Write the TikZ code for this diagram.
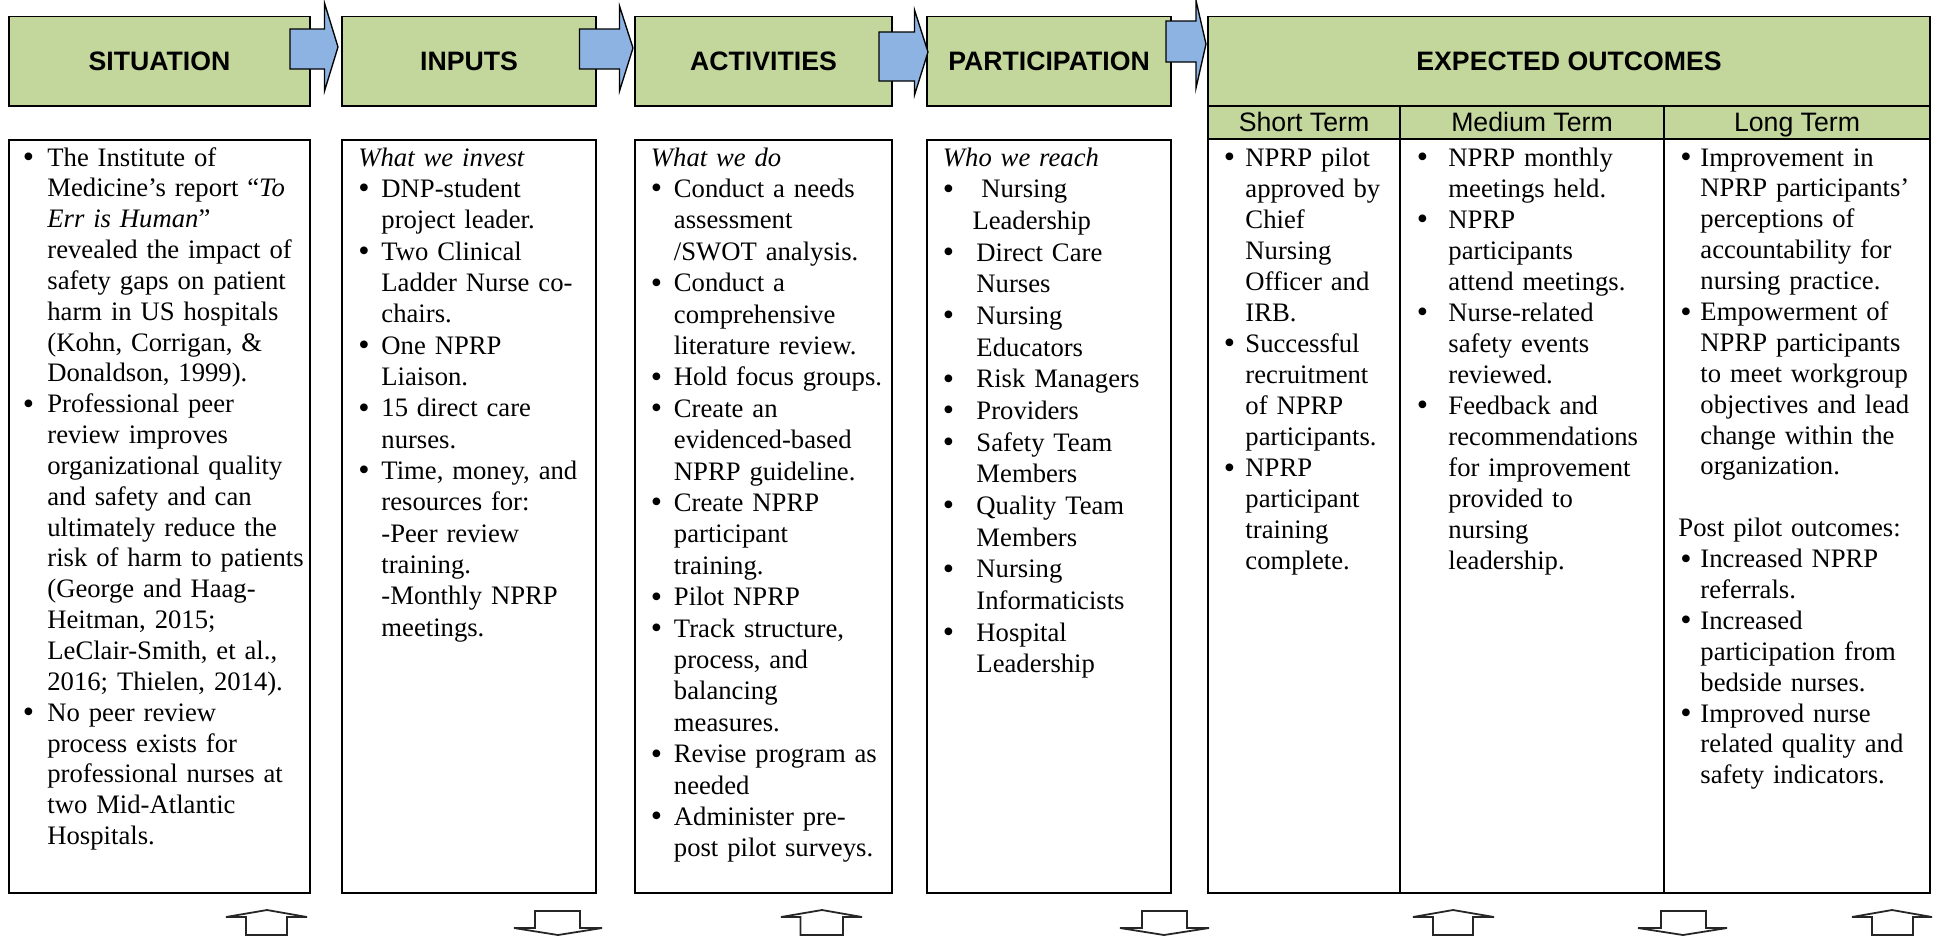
\documentclass[tikz,border=0pt]{standalone}
\usepackage{fontspec}
\setmainfont{Liberation Serif}
\newfontfamily\headfont{Liberation Sans}
\definecolor{hdrgreen}{HTML}{C3D69B}
\definecolor{arrowblue}{HTML}{8DB3E2}
\setlength{\parskip}{0pt}
% forced line end inside a paragraph
\newcommand{\lnbr}{\hfil\break}
% a slightly heavier list bullet
\newcommand{\bigbullet}{\raisebox{-0.7pt}{\fontsize{14.5}{14.5}\selectfont\textbullet}}
% bulleted paragraph: #1 = indent of the text after the bullet
\newcommand{\bitem}[2]{\hangindent=#1\hangafter=1\noindent\makebox[#1][l]{\bigbullet}#2\par}

\begin{document}
\begin{tikzpicture}[x=0.45pt,y=-0.45pt,
  sz/.style n args={2}{minimum width=#1*0.45pt, minimum height=#2*0.45pt},
  hdr/.style={draw=black, line width=0.7pt, fill=hdrgreen, inner sep=0pt,
    font=\headfont\bfseries\fontsize{12}{14}\selectfont},
  sub/.style={draw=black, line width=0.7pt, fill=hdrgreen, inner sep=0pt,
    text height=10.8pt, text depth=2.6pt,
    font=\headfont\fontsize{12}{14}\selectfont},
  panel/.style={draw=black, line width=0.8pt, inner sep=0pt},
  body/.style={anchor=base west, inner sep=0pt, text width=230pt,
    font=\fontsize{12}{#1}\selectfont},
  flow/.style={draw=black, line width=0.6pt, fill=arrowblue, line join=miter},
  openarrow/.style={draw=black!85, line width=0.8pt, fill=white, line join=miter}]

\useasboundingbox (0,0) rectangle (1939,939);
\fill[white] (0,0) rectangle (1939,939);

% column panels
\node[panel, sz={301}{753}] (sitbox) at (159.5,516.5) {};
\node[panel, sz={254}{753}] (inpbox) at (469,516.5) {};
\node[panel, sz={257}{753}] (actbox) at (763.5,516.5) {};
\node[panel, sz={244}{753}] (parbox) at (1049,516.5) {};
\node[panel, sz={192}{754}] (shortbox) at (1304,516) {};
\node[panel, sz={264}{754}] (medbox) at (1532,516) {};
\node[panel, sz={266}{754}] (longbox) at (1797,516) {};

% headers
\node[hdr, sz={301}{89.5}] (sit) at (159.5,61.25) {SITUATION};
\node[hdr, sz={254}{89.5}] (inp) at (469,61.25) {INPUTS};
\node[hdr, sz={257}{89.5}] (act) at (763.5,61.25) {ACTIVITIES};
\node[hdr, sz={244}{89.5}] (par) at (1049,61.25) {PARTICIPATION};
\node[hdr, sz={722}{89.5}] (out) at (1569,61.25) {EXPECTED OUTCOMES};
\node[sub, sz={192}{33}] (short) at (1304,122.5) {Short Term};
\node[sub, sz={264}{33}] (med) at (1532,122.5) {Medium Term};
\node[sub, sz={266}{33}] (long) at (1797,122.5) {Long Term};

% block arrows between the stages
\draw[flow] (290,29) -- (324.5,29) -- (324.5,3) -- (338,47) -- (324.5,91) -- (324.5,69) -- (290,69) -- cycle;
\draw[flow] (579.5,29) -- (619.5,29) -- (619.5,6) -- (633,48) -- (619.5,91) -- (619.5,69) -- (579.5,69) -- cycle;
\draw[flow] (879,32) -- (914.5,32) -- (914.5,10) -- (928,52) -- (914.5,95) -- (914.5,81) -- (879,81) -- cycle;
\draw[flow] (1166,21) -- (1196,21) -- (1196,0.5) -- (1206,44) -- (1196,88) -- (1196,62) -- (1166,62) -- cycle;

% small open arrows below the panels
\draw[openarrow] (246,935) -- (246,917) -- (226,917) -- (267,910) -- (307,917) -- (287,917) -- (287,935) -- cycle;
\draw[openarrow] (535,911) -- (580,911) -- (580,928) -- (602,928) -- (558,935) -- (514,928) -- (535,928) -- cycle;
\draw[openarrow] (800.5,935) -- (800.5,917) -- (781,917) -- (822,910) -- (862,917) -- (843,917) -- (843,935) -- cycle;
\draw[openarrow] (1142,911) -- (1187,911) -- (1187,928) -- (1209,928) -- (1164,935) -- (1120,928) -- (1142,928) -- cycle;
\draw[openarrow] (1433,935) -- (1433,917) -- (1413,917) -- (1453,910) -- (1494,917) -- (1473,917) -- (1473,935) -- cycle;
\draw[openarrow] (1661,911) -- (1706,911) -- (1706,928) -- (1727,928) -- (1683,935) -- (1638,928) -- (1661,928) -- cycle;
\draw[openarrow] (1872,935) -- (1872,917) -- (1852,917) -- (1892,910) -- (1932,917) -- (1913,917) -- (1913,935) -- cycle;

% column texts
\node[body=13.88pt] (sittext) at (22.5,166) {%
\bitem{11pt}{The Institute of\lnbr Medicine’s report “\textit{To}\lnbr\textit{Err is Human}”\lnbr revealed the impact of\lnbr safety gaps on patient\lnbr harm in US hospitals\lnbr (Kohn, Corrigan, \&\lnbr Donaldson, 1999).}%
\bitem{11pt}{Professional peer\lnbr review improves\lnbr organizational quality\lnbr and safety and can\lnbr ultimately reduce the\lnbr risk of harm to patients\lnbr (George and Haag-\lnbr Heitman, 2015;\lnbr LeClair-Smith, et al.,\lnbr 2016; Thielen, 2014).}%
\bitem{11pt}{No peer review\lnbr process exists for\lnbr professional nurses at\lnbr two Mid-Atlantic\lnbr Hospitals.}};

\node[body=14.1pt] (inptext) at (358,166) {%
\noindent\textit{What we invest}\par
\bitem{10.35pt}{DNP-student\lnbr project leader.}%
\bitem{10.35pt}{Two Clinical\lnbr Ladder Nurse co-\lnbr chairs.}%
\bitem{10.35pt}{One NPRP\lnbr Liaison.}%
\bitem{10.35pt}{15 direct care\lnbr nurses.}%
\bitem{10.35pt}{Time, money, and\lnbr resources for:\lnbr -Peer review\lnbr training.\lnbr -Monthly NPRP\lnbr meetings.}};

\node[body=14.13pt] (acttext) at (650.5,166) {%
\noindent\textit{What we do}\par
\bitem{10.35pt}{Conduct a needs\lnbr assessment\lnbr /SWOT analysis.}%
\bitem{10.35pt}{Conduct a\lnbr comprehensive\lnbr literature review.}%
\bitem{10.35pt}{Hold focus groups.}%
\bitem{10.35pt}{Create an\lnbr evidenced-based\lnbr NPRP guideline.}%
\bitem{10.35pt}{Create NPRP\lnbr participant\lnbr training.}%
\bitem{10.35pt}{Pilot NPRP}%
\bitem{10.35pt}{Track structure,\lnbr process, and\lnbr balancing\lnbr measures.}%
\bitem{10.35pt}{Revise program as\lnbr needed}%
\bitem{10.35pt}{Administer pre-\lnbr post pilot surveys.}};

\node[body=14.25pt] (partext) at (942.5,166) {%
\noindent\textit{Who we reach}\par
\bitem{13.3pt}{\ Nursing\lnbr Leadership}%
\bitem{15.08pt}{Direct Care\lnbr Nurses}%
\bitem{15.08pt}{Nursing\lnbr Educators}%
\bitem{15.08pt}{Risk Managers}%
\bitem{15.08pt}{Providers}%
\bitem{15.08pt}{Safety Team\lnbr Members}%
\bitem{15.08pt}{Quality Team\lnbr Members}%
\bitem{15.08pt}{Nursing\lnbr Informaticists}%
\bitem{15.08pt}{Hospital\lnbr Leadership}};

\node[body=13.97pt] (shorttext) at (1223.4,166) {%
\bitem{9.72pt}{NPRP pilot\lnbr approved by\lnbr Chief\lnbr Nursing\lnbr Officer and\lnbr IRB.}%
\bitem{9.72pt}{Successful\lnbr recruitment\lnbr of NPRP\lnbr participants.}%
\bitem{9.72pt}{NPRP\lnbr participant\lnbr training\lnbr complete.}};

\node[body=13.97pt] (medtext) at (1416.4,166) {%
\bitem{14.22pt}{NPRP monthly\lnbr meetings held.}%
\bitem{14.22pt}{NPRP\lnbr participants\lnbr attend meetings.}%
\bitem{14.22pt}{Nurse-related\lnbr safety events\lnbr reviewed.}%
\bitem{14.22pt}{Feedback and\lnbr recommendations\lnbr for improvement\lnbr provided to\lnbr nursing\lnbr leadership.}};

\node[body=13.9pt] (longtext) at (1680,166) {%
\bitem{9pt}{Improvement in\lnbr NPRP participants’\lnbr perceptions of\lnbr accountability for\lnbr nursing practice.}%
\bitem{9pt}{Empowerment of\lnbr NPRP participants\lnbr to meet workgroup\lnbr objectives and lead\lnbr change within the\lnbr organization.}%
\noindent\mbox{}\par
\noindent\hspace*{-0.9pt}Post pilot outcomes:\par
\bitem{9pt}{Increased NPRP\lnbr referrals.}%
\bitem{9pt}{Increased\lnbr participation from\lnbr bedside nurses.}%
\bitem{9pt}{Improved nurse\lnbr related quality and\lnbr safety indicators.}};

\end{tikzpicture}
\end{document}
